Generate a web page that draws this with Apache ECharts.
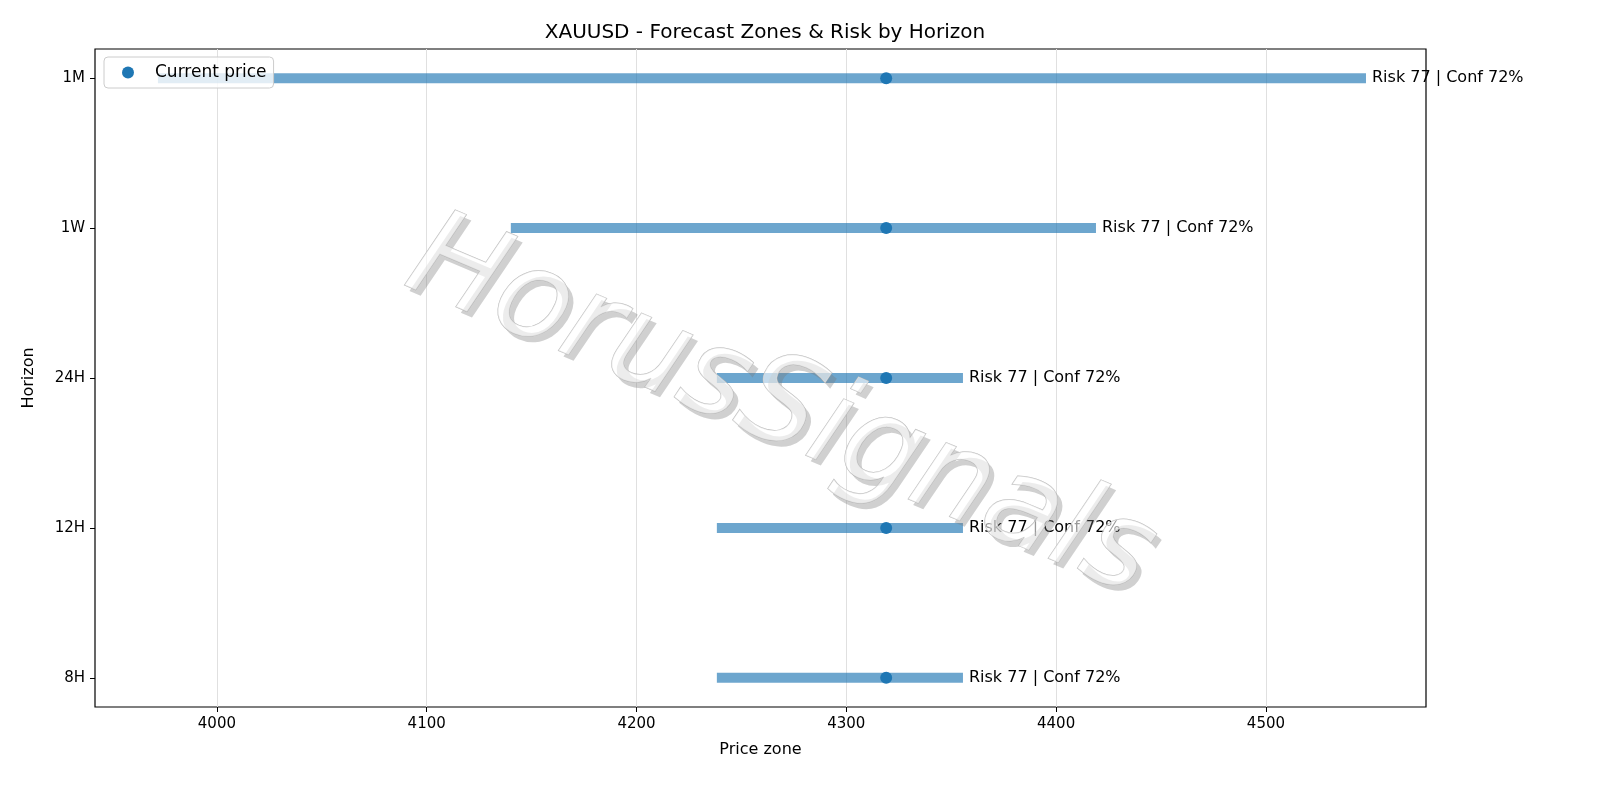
<!DOCTYPE html>
<html><head><meta charset="utf-8">
<script src="https://cdn.jsdelivr.net/npm/echarts@6/dist/echarts.min.js"></script>
<style>html,body{margin:0;padding:0;background:#fff}#c{width:1600px;height:800px}</style>
</head><body><div id="c"></div>
<script>
const horizons = ['8H','12H','24H','1W','1M'];
const lowVals = [4238.3, 4238.3, 4238.3, 4140.1, 3971.9];
const highVals = [4355.6, 4355.6, 4355.6, 4419.0, 4547.7];
const currentPrice = [4319, 4319, 4319, 4319, 4319];
const riskLabels = ['Risk 77 | Conf 72%','Risk 77 | Conf 72%','Risk 77 | Conf 72%','Risk 77 | Conf 72%','Risk 77 | Conf 72%'];
const xTicks = [4000,4100,4200,4300,4400,4500];

const FONT = 'DejaVu Sans';
const rangeData = horizons.map((h,i)=>[lowVals[i], highVals[i], i, riskLabels[i]]);
const chart = echarts.init(document.getElementById('c'));
const wmRot = -23*Math.PI/180;
const wmFont = 'italic 122px "DejaVu Sans"';
chart.setOption({
  animation:false,
  textStyle:{fontFamily:FONT},
  title:{text:'XAUUSD - Forecast Zones & Risk by Horizon',left:760,top:18,textAlign:'center',
    textStyle:{fontFamily:FONT,fontSize:20,fontWeight:'normal',color:'#000'}},
  grid:{left:95,right:174,top:49,bottom:93,show:true,borderColor:'#000',borderWidth:1.2,backgroundColor:'transparent'},
  legend:{left:104,top:57,orient:'vertical',data:[{name:'Current price',icon:'circle'}],
    itemWidth:12,itemHeight:12,itemGap:4,padding:[7,7,7,18],
    backgroundColor:'rgba(255,255,255,0.8)',borderColor:'#ccc',borderWidth:1,borderRadius:4,
    textStyle:{fontFamily:FONT,fontSize:17,color:'#000',padding:[0,0,0,16]}},
  xAxis:{type:'value',min:3941.9,max:4576.3,
    name:'Price zone',nameLocation:'middle',nameGap:35,nameTextStyle:{fontFamily:FONT,fontSize:16,color:'#000'},
    axisLine:{show:false,onZero:false},
    axisTick:{show:true,customValues:xTicks,length:5,lineStyle:{color:'#000'}},
    axisLabel:{customValues:xTicks,formatter:v=>String(v),fontFamily:FONT,fontSize:15,color:'#000',margin:10},
    splitLine:{show:true,lineStyle:{color:'#e0e0e0'}}},
  yAxis:{type:'value',min:-0.195,max:4.195,
    name:'Horizon',nameLocation:'middle',nameGap:58,nameTextStyle:{fontFamily:FONT,fontSize:16,color:'#000'},
    axisLine:{show:false,onZero:false},splitLine:{show:false},
    axisTick:{show:true,customValues:[0,1,2,3,4],length:5,lineStyle:{color:'#000'}},
    axisLabel:{customValues:[0,1,2,3,4],formatter:v=>horizons[Math.round(v)],fontFamily:FONT,fontSize:15,color:'#000',margin:10}},
  series:[
    {type:'custom',name:'range',data:rangeData,z:2,
      renderItem:(params,api)=>{
        const a=api.coord([api.value(0),api.value(2)]);
        const b=api.coord([api.value(1),api.value(2)]);
        return {type:'group',children:[
          {type:'line',shape:{x1:a[0],y1:a[1],x2:b[0],y2:b[1]},style:{stroke:'rgba(31,119,180,0.65)',lineWidth:10}},
          {type:'text',x:b[0]+6,y:b[1],style:{text:riskLabels[params.dataIndex],fill:'#000',font:'16px "DejaVu Sans"',verticalAlign:'middle'}}
        ]};
      }},
    {type:'scatter',name:'Current price',data:currentPrice.map((v,i)=>[v,i]),symbolSize:12,
      itemStyle:{color:'#1f77b4',opacity:1},z:3}
  ],
  graphic:[
    {type:'text',x:785,y:416,rotation:wmRot,z:99,silent:true,
      style:{text:'HorusSignals',font:wmFont,fill:'rgba(120,120,120,0.35)',align:'center',verticalAlign:'middle'}},
    {type:'text',x:780,y:410,rotation:wmRot,z:100,silent:true,
      style:{text:'HorusSignals',font:wmFont,fill:'rgba(255,255,255,0.6)',
        stroke:'rgba(180,180,180,0.9)',lineWidth:1,align:'center',verticalAlign:'middle'}}]
});
</script></body></html>
